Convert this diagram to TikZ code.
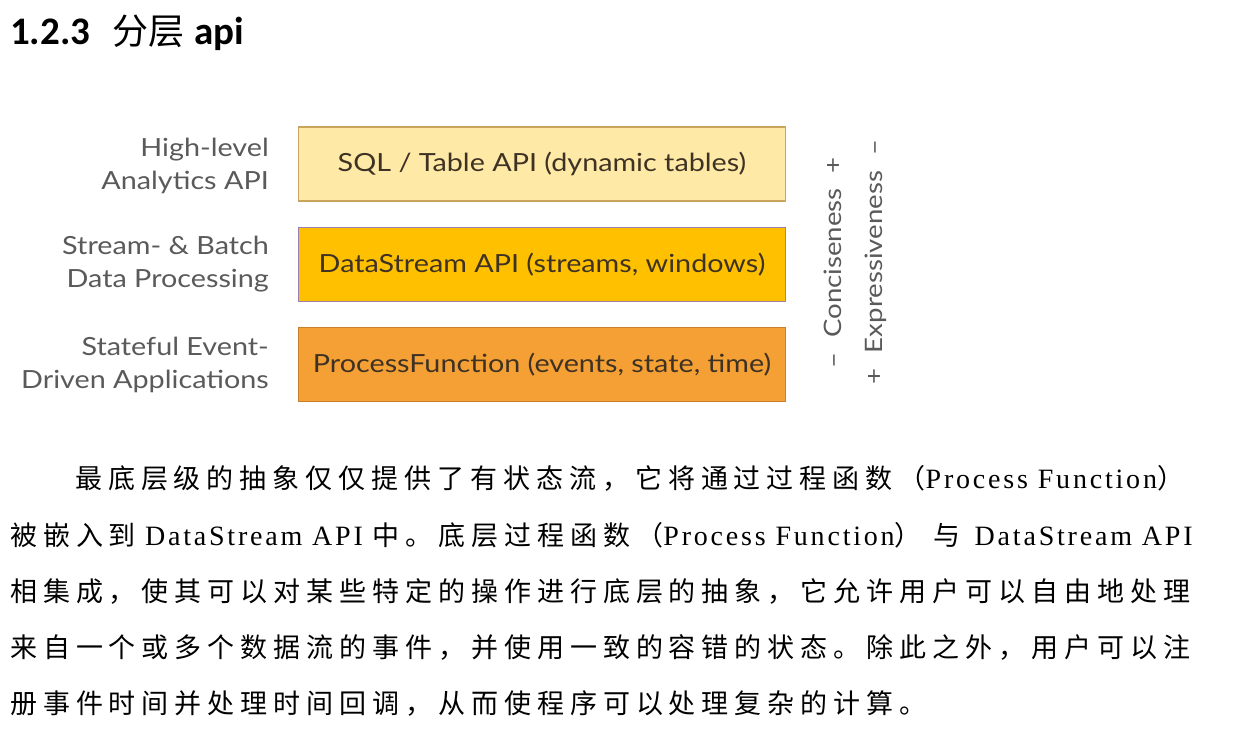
\documentclass[tikz,border=0pt]{standalone}
\usepackage{fontspec}
\setmainfont{Liberation Serif}
\newfontfamily\cjkfont{Noto Sans CJK SC}
\newfontfamily\bodycjk[LetterSpace=22]{Noto Sans CJK SC}
\newfontfamily\bodylat[LetterSpace=10]{Liberation Serif}
\newfontfamily\diagfont[FakeStretch=1.15]{Lato}
\newfontfamily\titlefont{Carlito}
\newcommand\myzh[1]{{\bodycjk #1}}
\newcommand\myen[1]{{\bodylat\fontsize{28}{30}\selectfont #1}}
\definecolor{boxA}{HTML}{FFE9A6}
\definecolor{boxAline}{HTML}{C9A45C}
\definecolor{boxB}{HTML}{FFC000}
\definecolor{boxBline}{HTML}{9C7FB0}
\definecolor{boxC}{HTML}{F5A035}
\definecolor{boxCline}{HTML}{C9802E}
\definecolor{boxtext}{HTML}{3E3224}
\definecolor{labgray}{HTML}{5A5A5A}
\begin{document}
\begin{tikzpicture}[x=1pt,y=-1pt,
  layer/.style={minimum width=487pt, minimum height=74pt, inner sep=0pt, line width=1.5pt,
     font=\diagfont\fontsize{25}{30}\selectfont, text=boxtext},
  sidelab/.style={anchor=east, align=right, inner sep=0pt, text=labgray,
     font=\diagfont\fontsize{25}{33}\selectfont},
  vlab/.style={rotate=90, inner sep=0pt, text=labgray, font=\diagfont\fontsize{24}{28}\selectfont},
  bodyline/.style={anchor=base west, inner sep=0pt, font=\fontsize{27}{30}\selectfont}]
\useasboundingbox[fill=white] (0,0) rectangle (1239,733);
% title
\node[anchor=base west, inner sep=0pt] (title) at (10,45)
  {{\titlefont\bfseries\fontsize{39}{44}\selectfont 1.2.3}\hspace{22pt}{\cjkfont\fontsize{36}{44}\selectfont 分层}\hspace{10pt}{\titlefont\bfseries\fontsize{39}{44}\selectfont api}};
% layers
\node[layer, fill=boxA, draw=boxAline] (sql) at (542,164) {SQL / Table API (dynamic tables)};
\node[layer, fill=boxB, draw=boxBline] (ds) at (542,264.5) {DataStream API (streams, windows)};
\node[layer, fill=boxC, draw=boxCline] (pf) at (542,364.5) {ProcessFunction (events, state, time)};
% side labels
\node[sidelab] (l1) at (269,165.5) {High-level\\Analytics API};
\node[sidelab] (l2) at (269,264.5) {Stream- \& Batch\\Data Processing};
\node[sidelab] (l3) at (269,364.5) {Stateful Event-\\Driven Applications};
% vertical labels
\node[vlab] (conc) at (833,263) {–\hspace{15pt}Conciseness\hspace{15pt}+};
\node[vlab] (expr) at (876,262) {+\hspace{15pt}Expressiveness\hspace{15pt}–};
% body text
\node[bodyline] (t1) at (75,488) {\myzh{最底层级的抽象仅仅提供了有状态流，它将通过过程函数（}\myen{Process Function}\myzh{）}};
\node[bodyline] (t2) at (10,545) {\myzh{被嵌入到}\hspace{9pt}\myen{DataStream API}\hspace{10pt}\myzh{中。底层过程函数（}\myen{Process Function}\myzh{）}\hspace{12pt}\myzh{与}\hspace{14pt}\myen{DataStream API}};
\node[bodyline] (t3) at (10,601) {\myzh{相集成，使其可以对某些特定的操作进行底层的抽象，它允许用户可以自由地处理}};
\node[bodyline] (t4) at (10,657) {\myzh{来自一个或多个数据流的事件，并使用一致的容错的状态。除此之外，用户可以注}};
\node[bodyline] (t5) at (10,713) {\myzh{册事件时间并处理时间回调，从而使程序可以处理复杂的计算。}};
\end{tikzpicture}
\end{document}
